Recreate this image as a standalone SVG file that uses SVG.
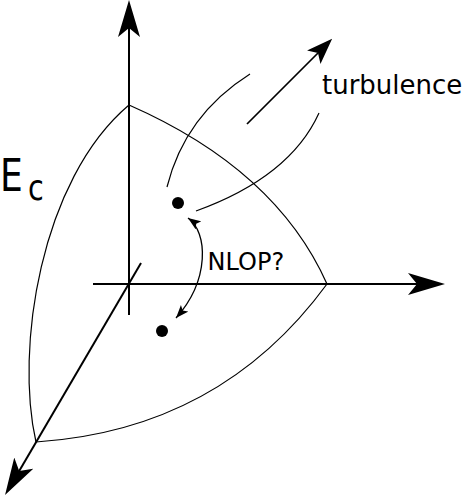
<svg xmlns="http://www.w3.org/2000/svg" width="463" height="496" viewBox="0 0 463 496">
<style>
.thin{fill:none;stroke:#000;stroke-width:1.2}
.axis{fill:none;stroke:#000;stroke-width:2}
.lbl{font-family:"DejaVu Sans",sans-serif;fill:#000}
</style>
<defs>
<marker id="big" markerUnits="userSpaceOnUse" viewBox="0 0 37 22" markerWidth="37" markerHeight="22" refX="9" refY="11" orient="auto"><path d="M0,0 L37,11 L0,22 L9,11 Z" fill="#000"/></marker>
<marker id="mid" markerUnits="userSpaceOnUse" viewBox="0 0 26 19" markerWidth="26" markerHeight="19" refX="6" refY="9.5" orient="auto"><path d="M0,0 L26,9.5 L0,19 L6,9.5 Z" fill="#000"/></marker>
<marker id="small" markerUnits="userSpaceOnUse" viewBox="0 0 13 10" markerWidth="13" markerHeight="10" refX="13" refY="5" orient="auto-start-reverse"><path d="M0,0 L13,5 L0,10 L3,5 Z" fill="#000"/></marker>
</defs>
<g id="surface">
<path class="thin" d="M129,105 Q276,169.5 327,284"/>
<path class="thin" d="M327,284 Q220,430 36,442"/>
<path class="thin" d="M129,105 C40,180 15,350 36,442"/>
</g>
<g id="connectors">
<line class="axis" x1="129" y1="315" x2="129" y2="28" marker-end="url(#big)"/>
<line class="axis" x1="93" y1="284" x2="417" y2="284" marker-end="url(#big)"/>
<line class="axis" x1="141" y1="263" x2="19.2" y2="470.9" marker-end="url(#big)"/>
<path class="thin" d="M167,187 Q185,115 250,74"/>
<path class="thin" d="M196,211 Q290,177 319,113"/>
<line x1="247" y1="124" x2="318" y2="53" stroke="#000" stroke-width="1.7" marker-end="url(#mid)"/>
<path d="M188,218 C208,232 210,280 176,318" fill="none" stroke="#000" stroke-width="1.3" marker-start="url(#small)" marker-end="url(#small)"/>
</g>
<g id="state1"><circle cx="178" cy="203" r="6" fill="#000"/></g>
<g id="state2"><circle cx="162" cy="331" r="6" fill="#000"/></g>
<g id="label-ec">
<text class="lbl" font-size="44" transform="translate(0,191) scale(0.82,1)">E</text>
<text class="lbl" font-size="35" transform="translate(28,200) scale(0.82,1)">c</text>
</g>
<g id="label-turbulence"><text class="lbl" x="322" y="94" font-size="26">turbulence</text></g>
<g id="label-nlop"><text class="lbl" x="207.6" y="270" font-size="24">NLOP?</text></g>
</svg>
